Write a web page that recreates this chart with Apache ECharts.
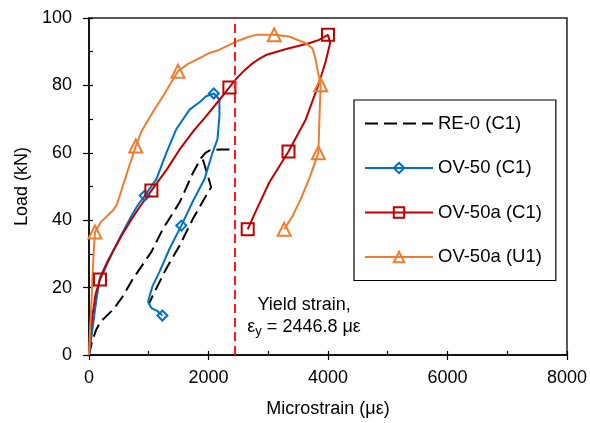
<!DOCTYPE html>
<html>
<head>
<meta charset="utf-8">
<script src="https://cdn.jsdelivr.net/npm/echarts@6/dist/echarts.min.js"></script>
<style>html,body{margin:0;padding:0;background:#fff;}#c{width:590px;height:423px;}</style>
</head>
<body>
<div id="c"></div>
<script>
// ---- data (strain in µε, load in kN) ----
const xTicks = [0, 2000, 4000, 6000, 8000];
const yTicks = [0, 20, 40, 60, 80, 100];
const seriesNames = ['RE-0 (C1)', 'OV-50 (C1)', 'OV-50a (C1)', 'OV-50a (U1)'];
const yieldStrain = 2446.8;

const re0Strain = [0, 50, 120, 200, 405, 550, 739, 1044, 1239, 1517, 1739, 1878, 1950, 2020, 2200, 2450];
const re0Load   = [0, 4, 7.5, 10, 13.5, 17, 22.7, 30.6, 37.5, 45.3, 54, 58.5, 60, 60.7, 61, 61];
const re0UnStrain = [1906, 1989, 2045, 1961, 1739, 1517, 1295, 1072, 1000];
const re0UnLoad   = [58, 53.2, 49.8, 47.3, 40.4, 32.5, 25.7, 17.8, 15];

const ov50Strain = [0, 60, 120, 183, 300, 400, 550, 683, 800, 933, 1128, 1295, 1461, 1683, 1850, 1961, 2089, 2183, 2183, 2150, 2067, 1933, 1733, 1545, 1350, 1183, 1067, 1017, 989, 1045, 1150, 1228];
const ov50Load   = [0, 8, 16, 23, 27.5, 30.7, 36, 40.4, 44, 47.3, 52.2, 60, 67, 72.8, 75, 76.8, 77.6, 75.8, 70.9, 64, 60, 52.2, 45.4, 38.4, 31.6, 24.8, 20.6, 17.7, 15.8, 13.9, 13, 11.7];
const ov50Marks  = [9, 16, 23, 31];

const ov50aStrain = [0, 20, 60, 110, 183, 300, 400, 550, 683, 850, 1044, 1300, 1517, 1750, 1961, 2150, 2350, 2460, 2580, 2720, 2850, 2961, 3300, 3683, 3850, 4000, 4035, 3960, 3850, 3628, 3339, 3017, 2800, 2656];
const ov50aLoad   = [0, 6, 12, 18, 22.4, 27, 30.7, 35.5, 39.5, 44, 48.8, 55, 61, 66.5, 70.9, 75, 79.4, 81.9, 84.1, 86.3, 87.9, 89, 90.8, 92.5, 93.5, 95, 92.5, 87, 80.7, 69.9, 60.4, 51.2, 43, 37.3];
const ov50aMarks  = [4, 10, 16, 25, 30, 33];

const ov50uStrain = [0, 20, 45, 65, 85, 100, 200, 400, 461, 520, 572, 620, 656, 720, 783, 870, 961, 1100, 1239, 1380, 1489, 1650, 1794, 2000, 2183, 2350, 2461, 2650, 2794, 3100, 3350, 3628, 3739, 3790, 3830, 3878, 3860, 3850, 3839, 3700, 3550, 3400, 3267];
const ov50uLoad   = [0, 8, 17, 26, 32, 36.5, 39.5, 42.9, 44.4, 47.5, 50.5, 53, 55.2, 58.5, 62, 66, 68.9, 73, 76.8, 81, 84.2, 86.3, 87.6, 89.5, 90.6, 92, 93, 94.3, 95, 95, 94.5, 92.5, 91, 88, 84, 80.2, 72, 66, 60, 53, 46.5, 41, 37.3];
const ov50uMarks  = [5, 14, 20, 29, 35, 38, 42];

function build(xs, ys, marks) {
  return xs.map((x, i) => {
    const item = { value: [x, ys[i]] };
    if (!marks || marks.indexOf(i) < 0) item.symbol = 'none';
    return item;
  });
}

const FONT = '"Liberation Sans", Arial, sans-serif';
const chart = echarts.init(document.getElementById('c'), null, { renderer: 'canvas' });

const baseAxis = { type: 'value', gridIndex: 0, splitLine: { show: false } };

function lineSeries(name, data, color, symbol, size, dash, noMarker) {
  return {
    name: name, type: 'line', data: data, xAxisIndex: 0, yAxisIndex: 0,
    symbol: symbol, symbolSize: size, showSymbol: true, smooth: false,
    lineStyle: { color: color, width: 2, type: dash || 'solid' },
    itemStyle: noMarker
      ? { color: 'rgba(255,255,255,0)', borderColor: 'rgba(255,255,255,0)', borderWidth: 0 }
      : { color: 'rgba(255,255,255,0)', borderColor: color, borderWidth: 2 },
    emphasis: { disabled: true }, animation: false, z: 3
  };
}

const option = {
  animation: false,
  backgroundColor: '#fff',
  textStyle: { fontFamily: FONT },
  grid: { left: 89, top: 18, right: 22, bottom: 66, show: true, borderColor: '#222', borderWidth: 1.5, backgroundColor: 'transparent' },
  xAxis: [
    Object.assign({}, baseAxis, {
      min: xTicks[0], max: xTicks[xTicks.length - 1], interval: 2000,
      name: 'Microstrain (\u03bc\u03b5)', nameLocation: 'middle', nameGap: 45,
      nameTextStyle: { fontSize: 18, color: '#000', fontFamily: FONT },
      axisLine: { show: true, onZero: false, lineStyle: { color: '#000', width: 1.5 } },
      axisTick: { show: true, inside: false, length: 5, lineStyle: { color: '#000', width: 1.2 } },
      axisLabel: { fontSize: 18, color: '#000', margin: 14, fontFamily: FONT, formatter: v => String(v) }
    }),
    Object.assign({}, baseAxis, {
      min: xTicks[0], max: xTicks[xTicks.length - 1], interval: 2000, position: 'bottom',
      axisLine: { show: false },
      axisTick: { show: true, inside: true, length: 4, lineStyle: { color: '#000', width: 1.2 } },
      minorTick: { show: true, splitNumber: 2, length: 4, lineStyle: { color: '#000', width: 1.2 } },
      axisLabel: { show: false }
    })
  ],
  yAxis: [
    Object.assign({}, baseAxis, {
      min: yTicks[0], max: yTicks[yTicks.length - 1], interval: 20,
      name: 'Load (kN)', nameLocation: 'middle', nameGap: 54,
      nameTextStyle: { fontSize: 18, color: '#000', fontFamily: FONT },
      axisLine: { show: true, onZero: false, lineStyle: { color: '#000', width: 1.5 } },
      axisTick: { show: true, inside: false, length: 6, lineStyle: { color: '#000', width: 1.2 } },
      axisLabel: { fontSize: 18, color: '#000', margin: 17, fontFamily: FONT, formatter: v => String(v) }
    }),
    Object.assign({}, baseAxis, {
      min: yTicks[0], max: yTicks[yTicks.length - 1], interval: 20, position: 'left',
      axisLine: { show: false },
      axisTick: { show: true, inside: true, length: 4, lineStyle: { color: '#000', width: 1.2 } },
      minorTick: { show: true, splitNumber: 2, length: 4, lineStyle: { color: '#000', width: 1.2 } },
      axisLabel: { show: false }
    })
  ],
  legend: {
    data: seriesNames, orient: 'vertical', left: 354, top: 100,
    padding: [14, 14, 14, 10], itemWidth: 68, itemHeight: 13, itemGap: 25.5,
    backgroundColor: '#fff', borderColor: '#000', borderWidth: 1.2, borderRadius: 0,
    textStyle: { fontSize: 18.5, color: '#000', fontFamily: FONT },
    selectedMode: false
  },
  series: [
    lineSeries(seriesNames[0], build(re0Strain, re0Load, []), '#000', 'circle', 1, [13, 6], true),
    lineSeries('re0-unload', build(re0UnStrain, re0UnLoad, []), '#000', 'none', 0, [13, 6], true),
    lineSeries(seriesNames[1], build(ov50Strain, ov50Load, ov50Marks), '#0070C0', 'diamond', 10),
    lineSeries(seriesNames[2], build(ov50aStrain, ov50aLoad, ov50aMarks), '#C00000', 'rect', 12),
    lineSeries(seriesNames[3], build(ov50uStrain, ov50uLoad, ov50uMarks), '#ED7D31', 'triangle', 13),
    {
      type: 'line', data: [], silent: true,
      markLine: {
        silent: true, symbol: 'none', animation: false,
        label: { show: false },
        lineStyle: { color: '#FF1A1A', width: 2, type: [9, 5] },
        data: [{ xAxis: yieldStrain }]
      }
    }
  ]
};
chart.setOption(option);

const p1 = chart.convertToPixel({ xAxisIndex: 0, yAxisIndex: 0 }, [3600, 14.8]);
const p2 = chart.convertToPixel({ xAxisIndex: 0, yAxisIndex: 0 }, [3600, 8.3]);
chart.setOption({
  graphic: [
    { type: 'text', x: p1[0], y: p1[1], style: { text: 'Yield strain,', font: '18px ' + FONT, fill: '#000', align: 'center', verticalAlign: 'middle' } },
    { type: 'text', x: p2[0], y: p2[1], style: {
        text: '{e|\u03b5}{s|y}{e| = 2446.8 \u03bc\u03b5}', align: 'center', verticalAlign: 'middle',
        rich: {
          e: { fontSize: 18, fontFamily: FONT, fill: '#000', lineHeight: 22, verticalAlign: 'middle' },
          s: { fontSize: 13, fontFamily: FONT, fill: '#000', lineHeight: 22, verticalAlign: 'bottom', padding: [8, 0, 0, 0] }
        }
      } }
  ]
});
</script>
</body>
</html>
